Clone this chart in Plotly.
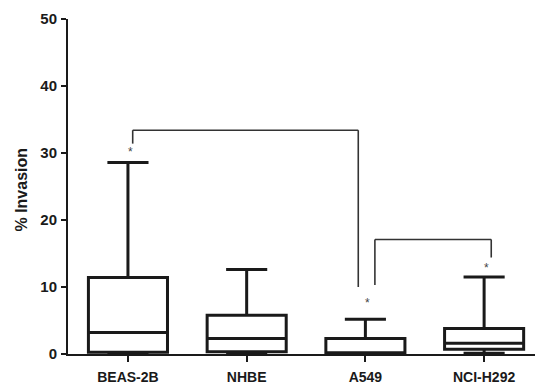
import plotly.graph_objects as go

# ---- data ----
categories = ["BEAS-2B", "NHBE", "A549", "NCI-H292"]
lower_whisker = [0.0, 0.1, 0.0, 0.1]
q1_values = [0.25, 0.35, 0.05, 0.7]
median_values = [3.2, 2.3, 0.1, 1.6]
q3_values = [11.4, 5.8, 2.3, 3.8]
upper_whisker = [28.6, 12.6, 5.2, 11.5]
y_tick_values = [0, 10, 20, 30, 40, 50]

# significance markers: (category index, value height)
star_positions = [(0, 30.1), (2, 7.6), (3, 12.8)]
# brackets: (x_left, x_right, y_top, y_left_end, y_right_end)
brackets = [
    (0.04, 1.94, 33.4, 31.4, 10.0),
    (2.08, 3.06, 17.1, 10.3, 14.4),
]

xpos = list(range(len(categories)))
font_family = "Liberation Sans, Arial, sans-serif"
ink = "#1a1a1a"

fig = go.Figure()
fig.add_trace(go.Box(
    x=xpos,
    q1=q1_values,
    median=median_values,
    q3=q3_values,
    lowerfence=lower_whisker,
    upperfence=upper_whisker,
    width=0.666,
    whiskerwidth=0.52,
    fillcolor="white",
    line=dict(color=ink, width=3),
    boxpoints=False,
    hoverinfo="skip",
    showlegend=False,
))

shapes = []
for xl, xr, yt, yl, yr in brackets:
    for (x0, y0, x1, y1) in [(xl, yt, xr, yt), (xl, yt, xl, yl), (xr, yt, xr, yr)]:
        shapes.append(dict(type="line", xref="x", yref="y", x0=x0, y0=y0, x1=x1, y1=y1,
                           line=dict(color="#333333", width=1.6)))

annotations = []
for xi, yv in star_positions:
    annotations.append(dict(x=xi + 0.02, y=yv, xref="x", yref="y", text="*", showarrow=False,
                            font=dict(family=font_family, size=12, color="#444444")))
annotations.append(dict(x=-0.0975, y=0.49, xref="paper", yref="paper", text="% Invasion",
                        textangle=-90, showarrow=False, xanchor="center", yanchor="middle",
                        font=dict(family=font_family, size=16, color=ink, weight="bold")))

fig.update_layout(
    width=535, height=376,
    margin=dict(l=60, r=0, t=11, b=30),
    paper_bgcolor="white", plot_bgcolor="white",
    shapes=shapes, annotations=annotations,
    xaxis=dict(
        range=[-0.505, 3.496],
        tickmode="array", tickvals=xpos, ticktext=categories,
        showline=True, linecolor=ink, linewidth=2,
        ticks="outside", ticklen=6, tickwidth=2, tickcolor=ink,
        ticklabelstandoff=3,
        showgrid=False, zeroline=False,
        tickfont=dict(family=font_family, size=14, color=ink, weight="bold"),
    ),
    yaxis=dict(
        range=[0, 50],
        tickmode="array", tickvals=y_tick_values,
        showline=True, linecolor=ink, linewidth=2,
        ticks="outside", ticklen=5, tickwidth=2, tickcolor=ink,
        ticklabelstandoff=1,
        showgrid=False, zeroline=False,
        tickfont=dict(family=font_family, size=15, color=ink, weight="bold"),
    ),
)

fig.write_html("out.html")
